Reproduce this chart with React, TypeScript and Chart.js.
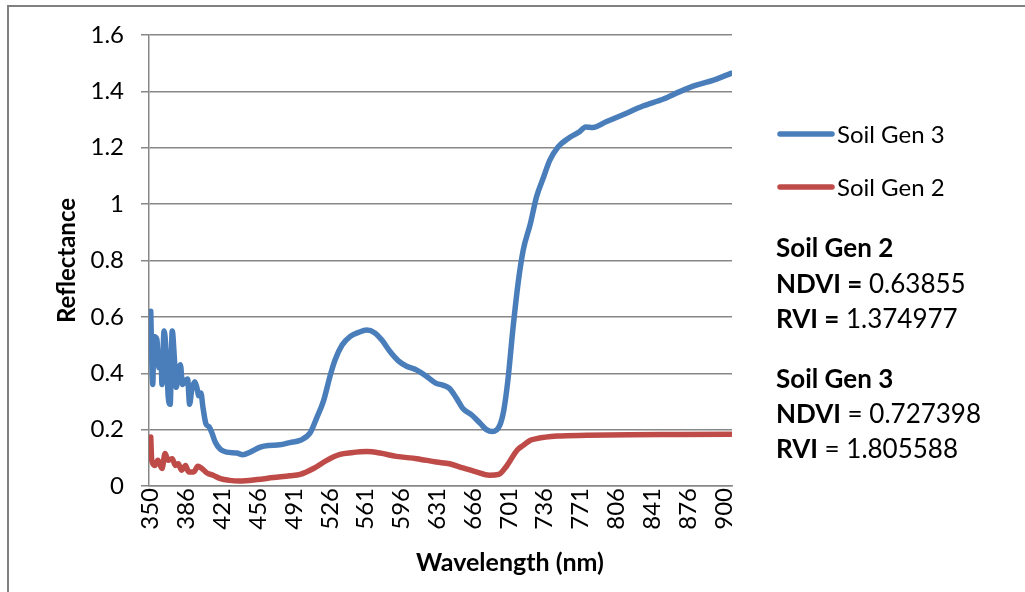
import React, { useEffect, useRef } from "react";
import { Chart, registerables } from "chart.js";

Chart.register(...registerables);

// Band index positions of the category-axis tick labels, and their wavelength labels
const tickBands = [0, 35, 70, 105, 140, 175, 210, 245, 280, 315, 350, 385, 420, 455, 490, 525, 560];
const tickLabels = ["350", "386", "421", "456", "491", "526", "561", "596", "631", "666", "701", "736", "771", "806", "841", "876", "900"];

// Soil Gen 3 (band index, reflectance)
const gen3Bands = [0, 2, 3, 6, 8, 10, 11, 13, 16, 17, 19, 21, 23, 25, 27, 29, 31, 34, 36, 38, 40, 43, 45, 47, 49, 51, 54, 57, 60, 63, 68, 74, 84, 90, 97, 107, 115, 126, 136, 146, 156, 162, 169, 175, 180, 187, 195, 203, 211, 219, 226, 234, 242, 250, 260, 268, 278, 286, 292, 299, 305, 314, 322, 328, 334, 341, 345, 349, 354, 359, 364, 371, 377, 384, 390, 398, 408, 419, 425, 432, 445, 462, 481, 501, 517, 533, 550, 567];
const gen3Values = [0.62, 0.36, 0.53, 0.52, 0.42, 0.46, 0.36, 0.55, 0.41, 0.32, 0.29, 0.55, 0.46, 0.35, 0.40, 0.43, 0.36, 0.375, 0.38, 0.29, 0.34, 0.37, 0.35, 0.32, 0.33, 0.28, 0.22, 0.21, 0.186, 0.156, 0.13, 0.12, 0.117, 0.111, 0.12, 0.138, 0.144, 0.146, 0.154, 0.162, 0.19, 0.24, 0.304, 0.387, 0.446, 0.50, 0.531, 0.545, 0.553, 0.543, 0.517, 0.476, 0.444, 0.425, 0.411, 0.393, 0.366, 0.357, 0.346, 0.31, 0.275, 0.251, 0.222, 0.20, 0.193, 0.215, 0.269, 0.375, 0.56, 0.72, 0.837, 0.931, 1.026, 1.097, 1.156, 1.203, 1.233, 1.257, 1.274, 1.272, 1.292, 1.318, 1.348, 1.373, 1.399, 1.422, 1.44, 1.464];

// Soil Gen 2 (band index, reflectance)
const gen2Bands = [0, 1, 4, 7, 11, 14, 17, 21, 24, 27, 30, 34, 37, 42, 46, 50, 55, 61, 68, 77, 87, 104, 120, 136, 146, 159, 172, 185, 196, 211, 224, 240, 260, 279, 292, 305, 318, 331, 340, 348, 358, 364, 371, 377, 397, 426, 468, 517, 567];
const gen2Values = [0.174, 0.091, 0.073, 0.091, 0.062, 0.115, 0.091, 0.097, 0.073, 0.079, 0.056, 0.073, 0.05, 0.05, 0.07, 0.062, 0.046, 0.038, 0.026, 0.02, 0.018, 0.023, 0.03, 0.036, 0.041, 0.062, 0.091, 0.112, 0.118, 0.122, 0.117, 0.105, 0.097, 0.085, 0.079, 0.064, 0.05, 0.038, 0.041, 0.072, 0.127, 0.144, 0.162, 0.168, 0.177, 0.18, 0.182, 0.183, 0.184];

const BLUE = "#4A7EBB";
const RED = "#BE4B48";
const GRID = "#878787";
const FONT = "Lato, 'Open Sans', sans-serif";

const legendPlugin = {
  id: "customLegend",
  afterDraw(chart: any) {
    const ctx = chart.ctx;
    const ys = [134, 187];
    ctx.save();
    chart.data.datasets.forEach((ds: any, i: number) => {
      const y = ys[i];
      ctx.beginPath();
      ctx.strokeStyle = ds.borderColor;
      ctx.lineWidth = 5.5;
      ctx.lineCap = "round";
      ctx.moveTo(780, y);
      ctx.lineTo(832, y);
      ctx.stroke();
      ctx.fillStyle = "#000";
      ctx.font = `24px ${FONT}`;
      ctx.textBaseline = "middle";
      ctx.textAlign = "left";
      ctx.fillText(ds.label, 837, y + 1);
    });
    // x axis title, centred as in the reference
    const xt = chart.options.scales.x.title;
    ctx.font = `bold 25px ${FONT}`;
    ctx.textAlign = "center";
    ctx.textBaseline = "middle";
    ctx.fillText(xt.text, 510, 563);
    ctx.restore();
  },
};

export default function App() {
  const ref = useRef<HTMLCanvasElement | null>(null);

  useEffect(() => {
    if (!ref.current) return;
    const chart = new Chart(ref.current, {
      type: "line",
      data: {
        datasets: [
          {
            label: "Soil Gen 3",
            data: gen3Bands.map((b, i) => ({ x: b, y: gen3Values[i] })),
            borderColor: BLUE,
            backgroundColor: BLUE,
            borderWidth: 5.5,
            pointRadius: 0,
            borderCapStyle: "round",
            borderJoinStyle: "round",
            cubicInterpolationMode: "monotone",
          },
          {
            label: "Soil Gen 2",
            data: gen2Bands.map((b, i) => ({ x: b, y: gen2Values[i] })),
            borderColor: RED,
            backgroundColor: RED,
            borderWidth: 5.5,
            pointRadius: 0,
            borderCapStyle: "round",
            borderJoinStyle: "round",
            cubicInterpolationMode: "monotone",
          },
        ],
      },
      options: {
        animation: false,
        responsive: false,
        layout: { padding: { left: 0, top: 35, right: 293, bottom: 13 } },
        plugins: { legend: { display: false }, tooltip: { enabled: false } },
        scales: {
          x: {
            type: "linear",
            min: -1.7,
            max: 568,
            afterBuildTicks: (scale: any) => {
              scale.ticks = tickBands.map((v) => ({ value: v }));
            },
            afterFit: (scale: any) => {
              scale.height = 93;
            },
            ticks: {
              autoSkip: false,
              minRotation: 90,
              maxRotation: 90,
              padding: 2,
              color: "#000",
              font: { family: FONT, size: 24 },
              callback: (value: any) => {
                const idx = tickBands.indexOf(Number(value));
                return idx >= 0 ? tickLabels[idx] : "";
              },
            },
            grid: { display: false, drawTicks: false },
            border: { display: true, color: GRID, width: 1.5 },
            title: {
              display: false,
              text: "Wavelength (nm)",
            },
          },
          y: {
            min: 0,
            max: 1.6,
            afterFit: (scale: any) => {
              scale.width = 149;
            },
            ticks: {
              stepSize: 0.2,
              padding: 17,
              color: "#000",
              font: { family: FONT, size: 24 },
              callback: (value: any) => String(Number(Number(value).toFixed(1))),
            },
            grid: { color: GRID, lineWidth: 1.5, tickLength: 8 },
            border: { display: true, color: GRID, width: 1.5 },
            title: {
              display: true,
              text: "Reflectance",
              color: "#000",
              font: { family: FONT, size: 24, weight: "bold" },
              padding: { top: 53, bottom: 0 },
            },
          },
        },
      },
      plugins: [legendPlugin],
    } as any);
    return () => chart.destroy();
  }, []);

  const line: React.CSSProperties = {
    position: "absolute",
    left: 776,
    fontFamily: FONT,
    fontSize: 26,
    lineHeight: "30px",
    color: "#000",
    whiteSpace: "nowrap",
  };

  return (
    <div style={{ position: "fixed", left: 0, top: 0, width: 1025, height: 592, overflow: "hidden", background: "#fff" }}>
      <div style={{ position: "absolute", left: 7, top: 5, width: 1040, height: 620, border: "2px solid #808080", boxSizing: "border-box" }} />
      <canvas ref={ref} width={1025} height={592} style={{ position: "absolute", left: 0, top: 0, width: 1025, height: 592 }} />
      <div style={{ ...line, top: 232 }}><b>Soil Gen 2</b></div>
      <div style={{ ...line, top: 268 }}><b>NDVI =</b> 0.63855</div>
      <div style={{ ...line, top: 303 }}><b>RVI =</b> 1.374977</div>
      <div style={{ ...line, top: 363 }}><b>Soil Gen 3</b></div>
      <div style={{ ...line, top: 398 }}><b>NDVI</b> = 0.727398</div>
      <div style={{ ...line, top: 433 }}><b>RVI</b> = 1.805588</div>
    </div>
  );
}
